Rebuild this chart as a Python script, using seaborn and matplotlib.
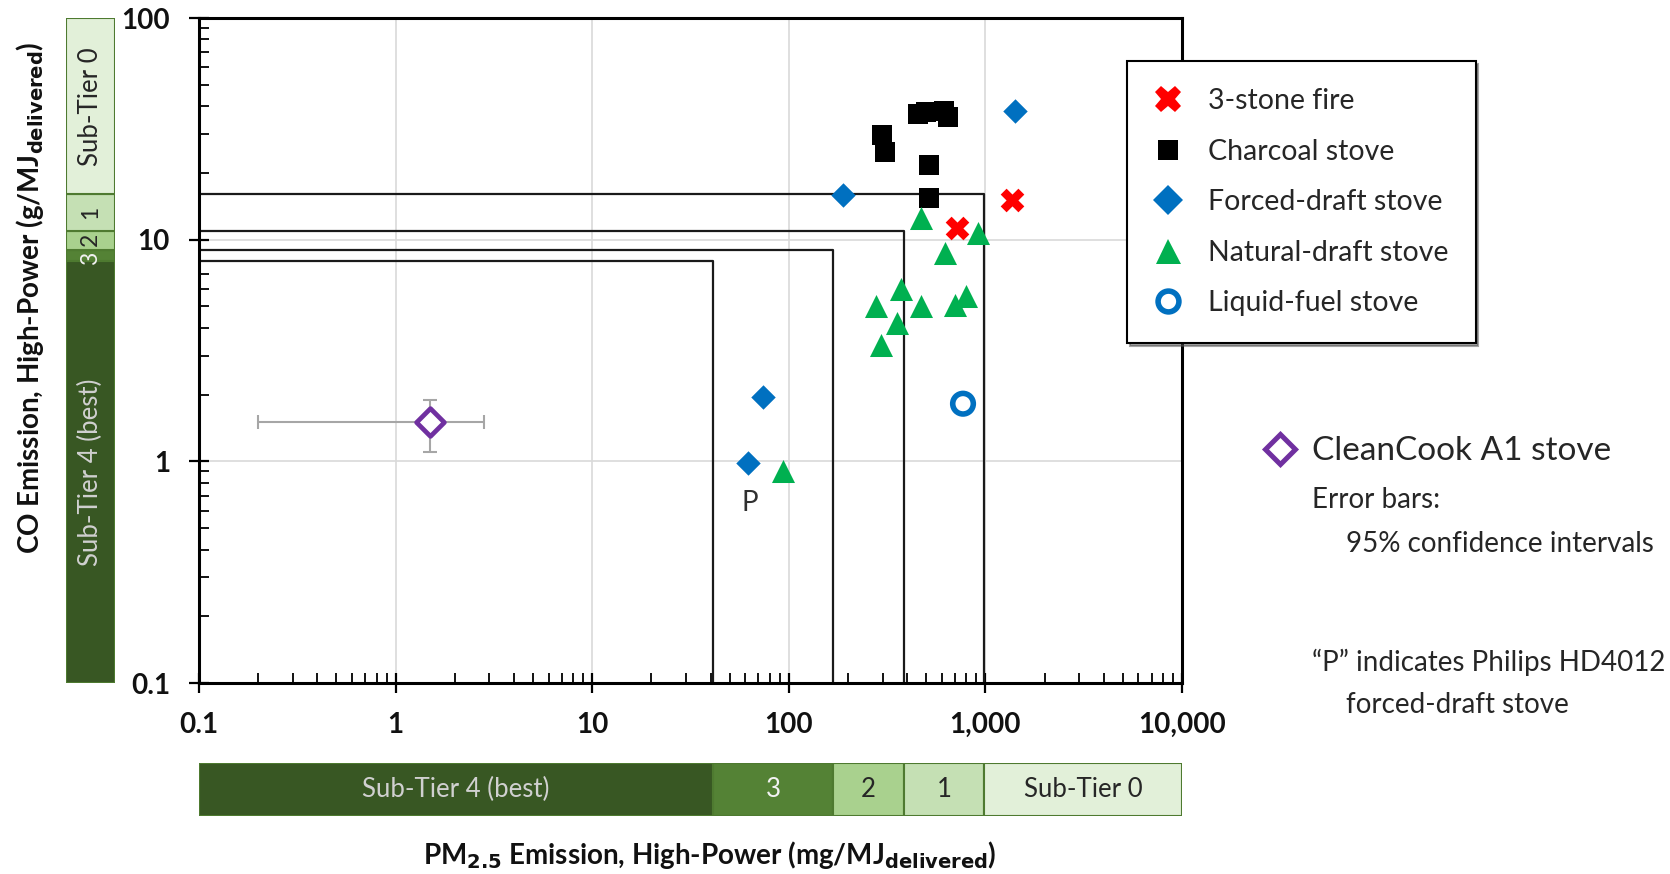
import numpy as np
import pandas as pd
import matplotlib
matplotlib.use("Agg")
import matplotlib.pyplot as plt
import seaborn as sns
from matplotlib.lines import Line2D
from matplotlib.ticker import FixedLocator, FixedFormatter, LogLocator, NullFormatter

# ---------------- data ----------------
stone_pm = [719, 1359]
stone_co = [11.3, 15.1]
charcoal_pm = [297, 308, 455, 500, 612, 643, 514, 514]
charcoal_co = [29.6, 24.8, 37.0, 37.5, 38.2, 35.8, 21.7, 15.4]
forced_pm = [189, 1410, 74, 62]
forced_co = [15.9, 38.2, 1.96, 0.98]
natural_pm = [472, 918, 621, 374, 276, 472, 353, 296, 697, 797, 93.5]
natural_co = [12.5, 10.7, 8.7, 6.0, 5.0, 5.0, 4.2, 3.35, 5.07, 5.6, 0.90]
liquid_pm = [769]
liquid_co = [1.82]
cleancook_pm = [1.5]
cleancook_co = [1.5]
cleancook_pm_ci = [0.2, 2.8]
cleancook_co_ci = [1.1, 1.9]
philips_pm = 62
philips_co = 0.98

# tier thresholds (IWA)
pm_tier_bounds = [0.1, 41, 168, 386, 979, 10000]
pm_tier_labels = ["Sub-Tier 4 (best)", "3", "2", "1", "Sub-Tier 0"]
co_tier_bounds = [0.1, 8, 9, 11, 16, 100]
co_tier_labels = ["Sub-Tier 4 (best)", "3", "2", "1", "Sub-Tier 0"]
pm_thresholds = [41, 168, 386, 979]
co_thresholds = [8, 9, 11, 16]

xtick_vals = [0.1, 1, 10, 100, 1000, 10000]
xtick_labels = ["0.1", "1", "10", "100", "1,000", "10,000"]
ytick_vals = [0.1, 1, 10, 100]
ytick_labels = ["0.1", "1", "10", "100"]

categories = ["3-stone fire", "Charcoal stove", "Forced-draft stove",
              "Natural-draft stove", "Liquid-fuel stove"]

tier_colors = ["#385723", "#548235", "#A9D18E", "#C5E0B4", "#E2F0D9"]
tier_text_colors = ["#D0D0D0", "#F2F2F2", "#262626", "#262626", "#262626"]
edge_green = "#4E7A30"

# ---------------- style ----------------
sns.set_theme(style="white")
plt.rcParams["font.family"] = ["Lato", "DejaVu Sans"]
plt.rcParams["mathtext.default"] = "regular"

fig = plt.figure(figsize=(16.7, 8.74), dpi=100)
ax = fig.add_axes([0.1192, 0.2185, 0.5886, 0.7609])
ax.set_xscale("log")
ax.set_yscale("log")
ax.set_xlim(0.1, 10000)
ax.set_ylim(0.1, 100)

# gridlines (major decades)
for v in xtick_vals[1:-1]:
    ax.axvline(v, color="#D9D9D9", lw=1.2, zorder=0)
for v in ytick_vals[1:-1]:
    ax.axhline(v, color="#D9D9D9", lw=1.2, zorder=0)

# threshold boxes
for pm, co in zip(pm_thresholds, co_thresholds):
    ax.plot([0.1, pm, pm], [co, co, 0.1], color="#1A1A1A", lw=1.6, zorder=1)

# scatter points
df = pd.DataFrame({
    "pm": stone_pm + charcoal_pm + forced_pm + natural_pm + liquid_pm,
    "co": stone_co + charcoal_co + forced_co + natural_co + liquid_co,
    "stove": ([categories[0]] * len(stone_pm) + [categories[1]] * len(charcoal_pm)
              + [categories[2]] * len(forced_pm) + [categories[3]] * len(natural_pm)
              + [categories[4]] * len(liquid_pm)),
})

styles = {
    "3-stone fire": dict(marker="X", s=290, color="#FF0000", edgecolor="#FF0000", linewidth=0),
    "Charcoal stove": dict(marker="s", s=190, color="#000000", edgecolor="#000000", linewidth=0),
    "Forced-draft stove": dict(marker="D", s=155, color="#0070C0", edgecolor="#0070C0", linewidth=0),
    "Natural-draft stove": dict(marker="^", s=275, color="#00B050", edgecolor="#00B050", linewidth=0),
    "Liquid-fuel stove": dict(marker="o", s=220, facecolor="none", edgecolor="#0070C0", linewidth=4),
}
legend_sizes = {"3-stone fire": 19, "Charcoal stove": 15, "Forced-draft stove": 15,
                "Natural-draft stove": 18, "Liquid-fuel stove": 15}
legend_colors = {"3-stone fire": "#FF0000", "Charcoal stove": "#000000",
                 "Forced-draft stove": "#0070C0", "Natural-draft stove": "#00B050",
                 "Liquid-fuel stove": "none"}
for cat in categories:
    sub = df[df["stove"] == cat]
    sns.scatterplot(data=sub, x="pm", y="co", ax=ax, legend=False, zorder=3, **styles[cat])

# CleanCook with error bars
ax.errorbar(cleancook_pm, cleancook_co,
            xerr=[[cleancook_pm[0] - cleancook_pm_ci[0]], [cleancook_pm_ci[1] - cleancook_pm[0]]],
            yerr=[[cleancook_co[0] - cleancook_co_ci[0]], [cleancook_co_ci[1] - cleancook_co[0]]],
            fmt="none", ecolor="#A6A6A6", elinewidth=1.5, capsize=5, capthick=1.5, zorder=2)
sns.scatterplot(x=cleancook_pm, y=cleancook_co, ax=ax, marker="D", s=200,
                color="white", edgecolor="#7030A0", linewidth=3.4, legend=False, zorder=4)

ax.text(philips_pm * 1.02, philips_co * 0.66, "P", fontsize=20, color="#303030",
        ha="center", va="center")

# axes styling
for sp in ax.spines.values():
    sp.set_color("black")
    sp.set_linewidth(2.2)
ax.xaxis.set_major_locator(FixedLocator(xtick_vals))
ax.xaxis.set_major_formatter(FixedFormatter(xtick_labels))
ax.yaxis.set_major_locator(FixedLocator(ytick_vals))
ax.yaxis.set_major_formatter(FixedFormatter(ytick_labels))
ax.xaxis.set_minor_locator(LogLocator(base=10, subs=np.arange(2, 10), numticks=20))
ax.yaxis.set_minor_locator(LogLocator(base=10, subs=np.arange(2, 10), numticks=20))
ax.xaxis.set_minor_formatter(NullFormatter())
ax.yaxis.set_minor_formatter(NullFormatter())
ax.tick_params(which="major", direction="inout", length=14, width=1.6, color="black",
               bottom=True, left=True, top=False, right=False)
ax.tick_params(which="minor", direction="in", length=7, width=1.3, color="black",
               bottom=True, left=True, top=False, right=False)
ax.tick_params(axis="x", which="major", pad=14)
ax.tick_params(axis="y", which="major", pad=14)
for lab in ax.get_xticklabels() + ax.get_yticklabels():
    lab.set_fontsize(20)
    lab.set_fontweight("bold")
    lab.set_color("#111111")
ax.set_xlabel("")
ax.set_ylabel("")

# legend
handles = [Line2D([], [], linestyle="none", marker=styles[c]["marker"],
                  markersize=legend_sizes[c],
                  markerfacecolor=legend_colors[c],
                  markeredgecolor=styles[c]["edgecolor"],
                  markeredgewidth=styles[c]["linewidth"]) for c in categories]
leg = ax.legend(handles, categories, loc="upper left",
                bbox_to_anchor=(1127 / 1670, 1 - 61 / 874), bbox_transform=fig.transFigure,
                frameon=True, fancybox=False, shadow=True, fontsize=20.5,
                labelspacing=0.86, handletextpad=0.9, borderpad=0.95, borderaxespad=0,
                handlelength=1.0)
leg.get_frame().set_edgecolor("black")
leg.get_frame().set_linewidth(1.5)
for t in leg.get_texts():
    t.set_color("#262626")

# left tier bar (CO)
axl = fig.add_axes([0.0395, 0.2185, 0.0293, 0.7609])
axl.set_yscale("log")
axl.set_ylim(0.1, 100)
axl.set_xlim(0, 1)
lo = np.array(co_tier_bounds[:-1]); hi = np.array(co_tier_bounds[1:])
axl.bar([0.5] * 5, hi - lo, bottom=lo, width=1, color=tier_colors,
        edgecolor=edge_green, linewidth=1.5)
for l, h, lab, tc in zip(lo, hi, co_tier_labels, tier_text_colors):
    fs = 18.5 if len(lab) > 2 else 16.5
    ym = np.sqrt(l * h)
    if lab == "3":
        ym = 8.2
    if lab == "2":
        ym = 10.0
    axl.text(0.5, ym, lab, rotation=90, ha="center", va="center", fontsize=fs, color=tc)
axl.axis("off")

# bottom tier bar (PM2.5)
axb = fig.add_axes([0.1192, 0.0664, 0.5886, 0.0606])
axb.set_xscale("log")
axb.set_xlim(0.1, 10000)
axb.set_ylim(0, 1)
lo = np.array(pm_tier_bounds[:-1]); hi = np.array(pm_tier_bounds[1:])
axb.barh([0.5] * 5, hi - lo, left=lo, height=1, color=tier_colors,
         edgecolor=edge_green, linewidth=1.5)
for l, h, lab, tc in zip(lo, hi, pm_tier_labels, tier_text_colors):
    axb.text(np.sqrt(l * h), 0.5, lab, ha="center", va="center", fontsize=18.5, color=tc)
axb.axis("off")

# axis labels
fig.text(0.018, 0.659, "CO Emission, High-Power (g/MJ$_{\\mathbf{delivered}}$)",
         rotation=90, ha="center", va="center", fontsize=20, fontweight="bold", color="#111111")
fig.text(0.425, 0.022, "PM$_{\\mathbf{2.5}}$ Emission, High-Power (mg/MJ$_{\\mathbf{delivered}}$)",
         ha="center", va="center", fontsize=20, fontweight="bold", color="#111111")

# right annotations
fig.add_artist(Line2D([1280 / 1670], [1 - 449 / 874], transform=fig.transFigure,
                      marker="D", markersize=15.5, markerfacecolor="white",
                      markeredgecolor="#7030A0", markeredgewidth=3.6, linestyle="none"))
fig.text(1312 / 1670, 1 - 451 / 874, "CleanCook A1 stove", fontsize=24, color="#262626",
         ha="left", va="center")
fig.text(1312 / 1670, 1 - 500 / 874, "Error bars:", fontsize=20, color="#262626",
         ha="left", va="center")
fig.text(1346 / 1670, 1 - 544 / 874, "95% confidence intervals", fontsize=20, color="#262626",
         ha="left", va="center")
fig.text(1312 / 1670, 1 - 662 / 874, "\u201cP\u201d indicates Philips HD4012", fontsize=20,
         color="#262626", ha="left", va="center")
fig.text(1346 / 1670, 1 - 705 / 874, "forced-draft stove", fontsize=20, color="#262626",
         ha="left", va="center")

fig.savefig("out.png", dpi=100, facecolor="white")
